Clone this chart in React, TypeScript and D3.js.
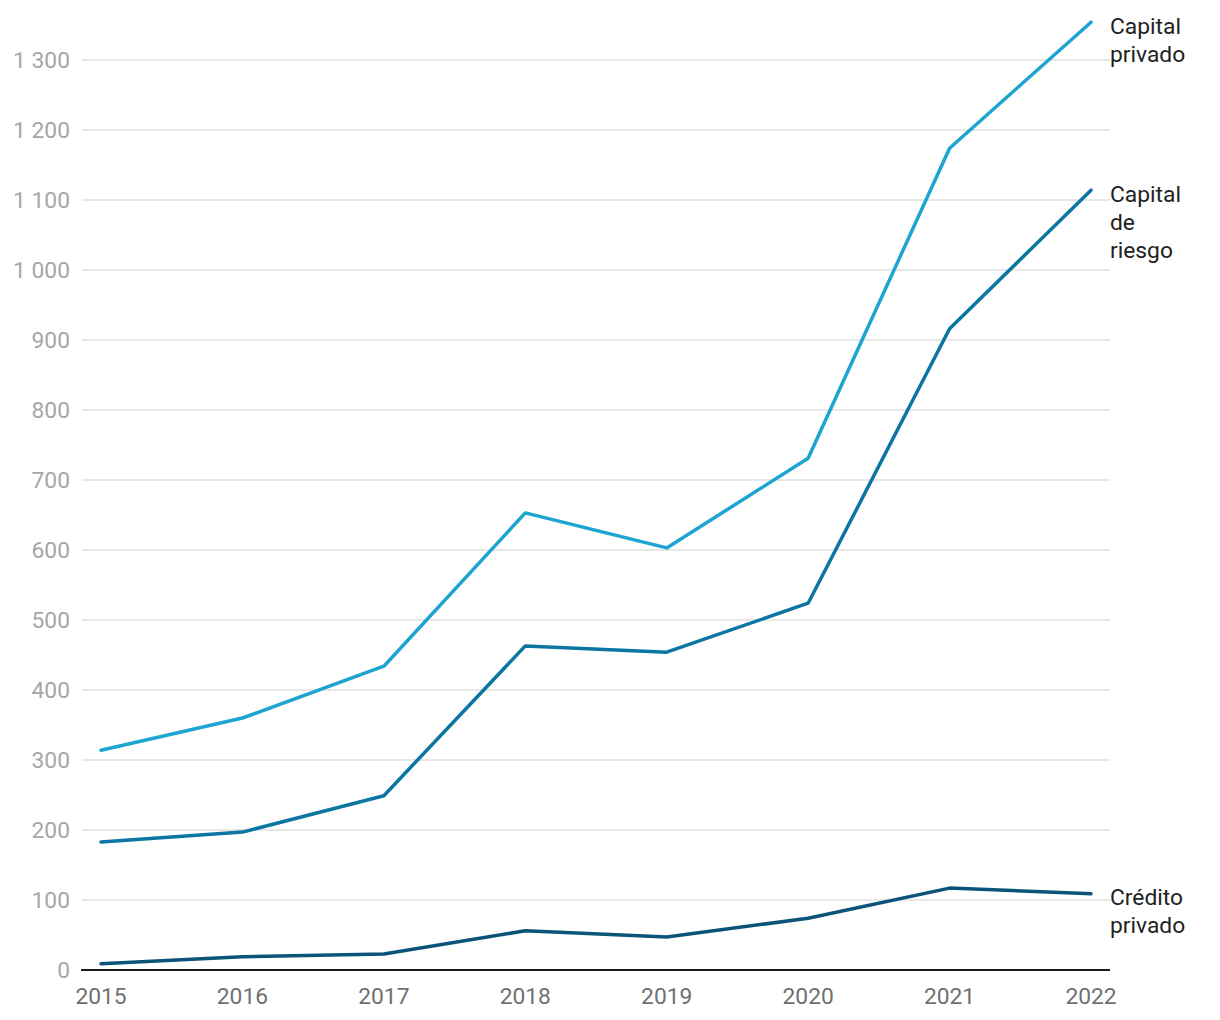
import React from "react";
import * as d3 from "d3";

const years = [2015, 2016, 2017, 2018, 2019, 2020, 2021, 2022];
const capitalPrivado = [314, 360, 434, 653, 603, 731, 1174, 1354];
const capitalRiesgo = [183, 197, 249, 463, 454, 524, 916, 1114];
const creditoPrivado = [9, 19, 23, 56, 47, 74, 117, 109];
const yTicks = [0, 100, 200, 300, 400, 500, 600, 700, 800, 900, 1000, 1100, 1200, 1300];

const seriesList = [
  { name: ["Capital", "privado"], values: capitalPrivado, color: "#1ea4d1", labelY: 26 },
  { name: ["Capital", "de", "riesgo"], values: capitalRiesgo, color: "#0b76a1", labelY: 194 },
  { name: ["Crédito", "privado"], values: creditoPrivado, color: "#0b5379", labelY: 897 },
];

const fmt = (v: number) => {
  const s = String(v);
  return s.length > 3 ? s.slice(0, s.length - 3) + " " + s.slice(-3) : s;
};

export default function App() {
  const width = 1220;
  const height = 1020;
  const x = d3.scalePoint<number>().domain(years).range([101, 1091]);
  const y = d3.scaleLinear().domain([0, 1300]).range([970, 60]);
  const line = d3
    .line<number>()
    .x((_, i) => x(years[i]) as number)
    .y((d) => y(d));
  const font = "Roboto, 'Noto Sans', sans-serif";
  const fs = 22.8;
  return (
    <svg
      width={width}
      height={height}
      style={{ position: "absolute", left: 0, top: 0, fontFamily: font }}
    >
      <rect width={width} height={height} fill="#fff" />
      {yTicks.map((t) => (
        <g key={t}>
          {t > 0 && (
            <line x1={82} x2={1110} y1={y(t)} y2={y(t)} stroke="#e0e0e0" strokeWidth={1.5} />
          )}
          <text
            x={70}
            y={y(t)}
            dy="0.35em"
            textAnchor="end"
            fontSize={fs}
            fill="#a6a6a6"
            style={{ whiteSpace: "pre" }}
          >
            {fmt(t)}
          </text>
        </g>
      ))}
      <line x1={81} x2={1110} y1={970} y2={970} stroke="#1a1a1a" strokeWidth={2} />
      {years.map((yr) => (
        <text
          key={yr}
          x={x(yr) as number}
          y={1004}
          textAnchor="middle"
          fontSize={fs}
          fill="#707070"
        >
          {yr}
        </text>
      ))}
      {seriesList.map((s) => (
        <path
          key={s.name.join(" ")}
          d={line(s.values) || ""}
          fill="none"
          stroke={s.color}
          strokeWidth={3.5}
          strokeLinejoin="round"
          strokeLinecap="round"
        />
      ))}
      {seriesList.map((s) => (
        <text key={s.name.join("-")} x={1110} fontSize={fs} fill="#222">
          {s.name.map((w, i) => (
            <tspan key={i} x={1110} y={s.labelY + i * 28} dy="0.35em">
              {w}
            </tspan>
          ))}
        </text>
      ))}
    </svg>
  );
}
